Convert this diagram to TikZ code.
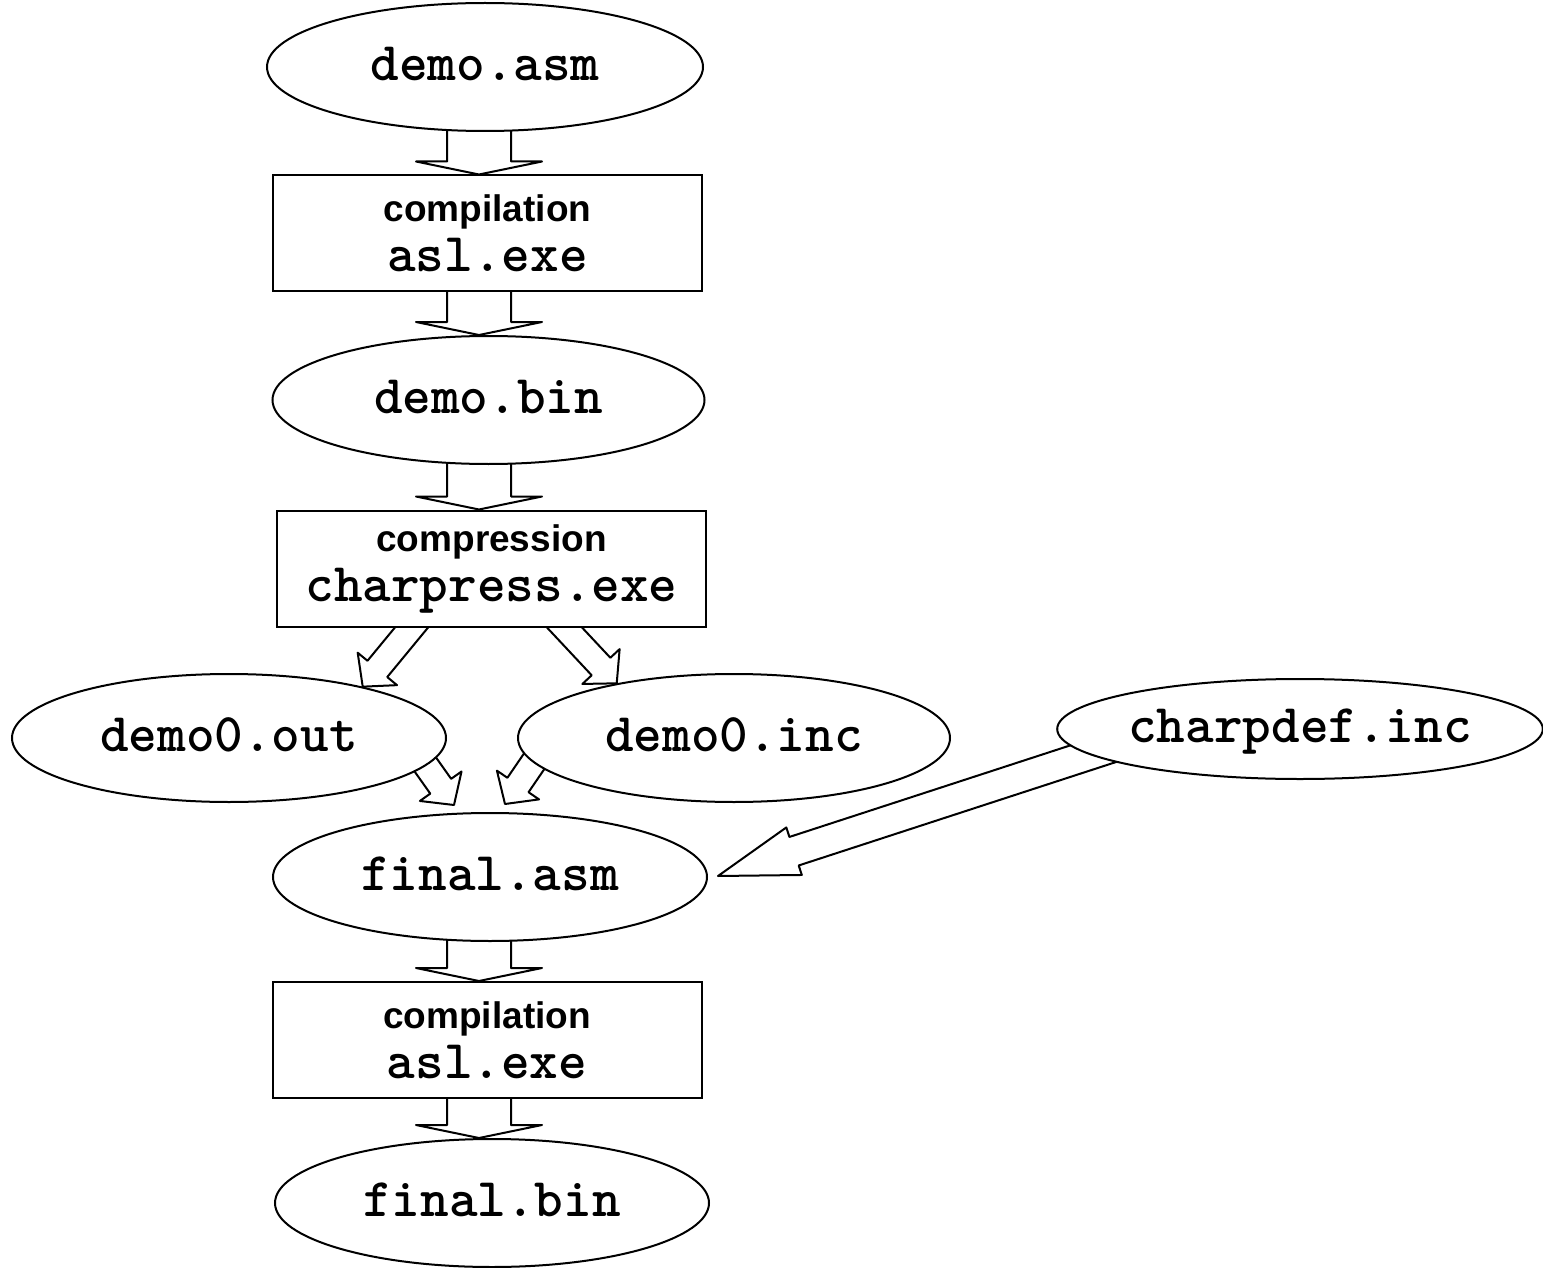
\documentclass[tikz,border=0pt]{standalone}
\usepackage{fontspec}
\setsansfont{Liberation Sans}
\usetikzlibrary{shapes.geometric,calc}
\pgfdeclarelayer{bg}
\pgfsetlayers{bg,main}
\newcommand\monotxt{\ttfamily\bfseries\fontsize{54.5}{50}\selectfont}
\newcommand\sanstxt{\sffamily\bfseries\fontsize{37}{50}\selectfont}
% block arrow: #1 id, #2 tail (border point), #3 tip, #4 shaft half width, #5 head half width, #6 head length
\newcommand\blk[6]{%
  \coordinate (#1t) at ($(#2)!-30pt!(#3)$);
  \coordinate (#1h) at ($(#3)!#6!(#2)$);
  \begin{pgfonlayer}{bg}
  \filldraw[blkarrow] ($(#1t)!#4!90:(#3)$) -- ($(#1h)!#4!90:(#3)$) -- ($(#1h)!#5!90:(#3)$) -- (#3)
     -- ($(#1h)!#5!-90:(#3)$) -- ($(#1h)!#4!-90:(#3)$) -- ($(#1t)!#4!-90:(#3)$) -- cycle;
  \end{pgfonlayer}}
\tikzset{
  file/.style={ellipse, draw, fill=white, inner sep=0pt, font=\monotxt, line width=2pt,
    text height=38pt, text depth=11pt, minimum width=434pt, minimum height=128pt},
  tool/.style={rectangle, draw, fill=white, inner sep=0pt, minimum width=429pt, line width=2pt,
    minimum height=116pt, align=center, font=\fontsize{37}{50}\selectfont},
  blkarrow/.style={draw, fill=white, line join=round, line width=2pt},
}
\begin{document}
\begin{tikzpicture}[x=1pt,y=-1pt,line width=2pt]
\useasboundingbox (0,0) rectangle (1543,1268);
% nodes
\node[file, minimum width=436pt] (asm) at (485,67) {demo.asm};
\node[tool] (c1) at (487.5,233.5) {{\sanstxt compilation}\\{\monotxt asl.exe}};
\node[file, minimum width=432pt] (bin) at (488.5,400) {demo.bin};
\node[tool] (c2) at (491.5,568.5) {{\sanstxt compression}\\{\monotxt charpress.exe}};
\node[file] (dout) at (229,738) {demo0.out};
\node[file, minimum width=432pt] (dinc) at (734,738) {demo0.inc};
\node[file, minimum width=480pt, minimum height=100pt] (cdef) at (1300,729) {charpdef.inc};
\node[file] (fasm) at (490,877) {final.asm};
\node[tool] (c3) at (487,1040) {{\sanstxt compilation}\\{\monotxt asl.exe}};
\node[file] (fbin) at (492,1203) {final.bin};
% connector end points
\coordinate (v1a) at ([xshift=-6pt]asm.south);
\coordinate (v1b) at ([xshift=-8.5pt]c1.north);
\coordinate (v2a) at ([xshift=-8.5pt]c1.south);
\coordinate (v2b) at ([xshift=-9.5pt]bin.north);
\coordinate (v3a) at ([xshift=-9.5pt]bin.south);
\coordinate (v3b) at ([xshift=-12.5pt]c2.north);
\coordinate (v4a) at ([xshift=-11pt]fasm.south);
\coordinate (v4b) at ([xshift=-8pt]c3.north);
\coordinate (v5a) at ([xshift=-8pt]c3.south);
\coordinate (v5b) at ([xshift=-13pt]fbin.north);
\coordinate (daa) at ([xshift=-80pt]c2.south);
\coordinate (dab) at (dout.21);
\coordinate (dba) at ([xshift=73pt]c2.south);
\coordinate (dbb) at (dinc.155.3);
\coordinate (dca) at (dout.-8.6);
\coordinate (dcb) at ($(fasm.north)+(-36,-7)$);
\coordinate (dda) at (dinc.187.6);
\coordinate (ddb) at ($(fasm.north)+(15,-8)$);
\coordinate (dea) at (cdef.187);
\coordinate (deb) at ($(fasm.east)+(10,-1)$);
% connectors
\blk{v1}{v1a}{v1b}{32pt}{63pt}{13pt}
\blk{v2}{v2a}{v2b}{32pt}{63pt}{13pt}
\blk{v3}{v3a}{v3b}{32pt}{63pt}{13pt}
\blk{v4}{v4a}{v4b}{32pt}{63pt}{13pt}
\blk{v5}{v5a}{v5b}{32pt}{63pt}{13pt}
\blk{da}{daa}{dab}{12.8pt}{25.5pt}{23pt}
\blk{db}{dba}{dbb}{12.8pt}{25.5pt}{23pt}
\blk{dc}{dca}{dcb}{12.8pt}{25.5pt}{23pt}
\blk{dd}{dda}{ddb}{12.8pt}{25.5pt}{23pt}
\blk{de}{dea}{deb}{15pt}{25pt}{80pt}
\end{tikzpicture}
\end{document}
